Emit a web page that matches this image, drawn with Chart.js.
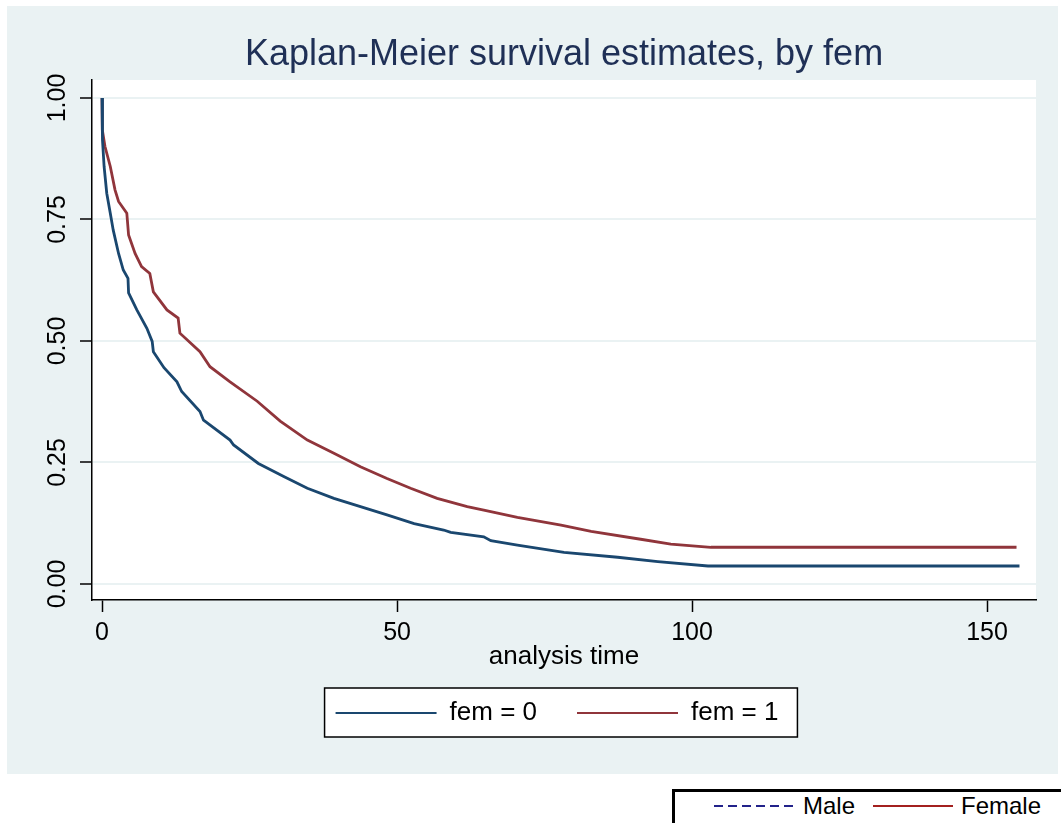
<!DOCTYPE html>
<html>
<head>
<meta charset="utf-8">
<title>Kaplan-Meier survival estimates, by fem</title>
<script src="https://cdn.jsdelivr.net/npm/chart.js@4.4.1/dist/chart.umd.min.js"></script>
<style>
  html, body { margin: 0; padding: 0; background: #fff; overflow: hidden; }
  #wrap { position: relative; width: 1061px; height: 823px; }
  #chart { position: absolute; left: 0; top: 0; }
  #keys {
    position: absolute; left: 672px; top: 789px; width: 420px; height: 60px;
    border: 3px solid #000; background: #fff;
    font-family: "Liberation Sans", Arial, sans-serif; font-size: 24px; color: #000;
  }
  #keys .ln { position: absolute; top: 13px; height: 2px; }
  #keys .tx { position: absolute; top: -1px; line-height: 30px; white-space: nowrap; }
</style>
</head>
<body>
<div id="wrap">
  <canvas id="chart" width="1061" height="823"></canvas>
  <div id="keys">
    <span class="ln" style="left:39px;width:81px;background:repeating-linear-gradient(to right,#22228a 0 9px,transparent 9px 14px);"></span>
    <span class="tx" style="left:128px;">Male</span>
    <span class="ln" style="left:198px;width:80px;background:#a3201f;"></span>
    <span class="tx" style="left:286px;">Female</span>
  </div>
</div>
<script>
// values
const xTicks = [0, 50, 100, 150];
const yTicks = [0, 0.25, 0.5, 0.75, 1];
const groupLabels = ['fem = 0', 'fem = 1'];

const fem0Time = [0, 0.05, 0.1, 0.35, 0.8, 1.4, 1.9, 2.8, 3.6, 4.4, 4.5, 5.9, 7.6, 8.5, 8.7, 10.5, 12.7, 13.5,
  16.6, 17.2, 21.7, 22.3, 26.5, 30.8, 34.8, 39.3, 43.8, 48.3, 52.9, 57.9, 59.1, 64.7, 65.9, 70.4, 78.3,
  87.4, 94.2, 102.7, 155.5];
const fem0Surv = [1.0, 0.965, 0.914, 0.859, 0.804, 0.763, 0.728, 0.68, 0.646, 0.629, 0.599, 0.564, 0.526, 0.499, 0.478, 0.445, 0.416, 0.396,
  0.355, 0.337, 0.296, 0.286, 0.248, 0.221, 0.197, 0.176, 0.159, 0.142, 0.124, 0.111, 0.106, 0.097, 0.089, 0.080, 0.065,
  0.055, 0.046, 0.037, 0.037];

const fem1Time = [0, 0.05, 0.5, 1.4, 2.2, 2.8, 4.2, 4.5, 5.6, 6.7, 8.1, 8.7, 11, 12.9, 13.2, 16.6, 18.3, 21.7,
  26.3, 30.2, 34.8, 39.3, 43.8, 48.3, 52.3, 56.8, 61.9, 64.7, 70.4, 77.8, 82.9, 91.3, 96.4, 103.2, 155];
const fem1Surv = [1.0, 0.934, 0.90, 0.859, 0.811, 0.787, 0.763, 0.718, 0.68, 0.653, 0.639, 0.601, 0.564, 0.547, 0.516, 0.478, 0.447, 0.416,
  0.376, 0.335, 0.296, 0.269, 0.241, 0.217, 0.197, 0.176, 0.159, 0.152, 0.137, 0.121, 0.108, 0.092, 0.082, 0.0755, 0.0755];

const lineColors = ['#1a476f', '#90353b'];

function toPoints(times, surv) {
  return times.map((t, i) => ({ x: t, y: surv[i] }));
}

// gray page, white plot region and the box round the legend
const backdrop = {
  id: 'backdrop',
  afterUpdate(chart) {
    // nudge the legend a little left, as in the original
    const lg = chart.legend;
    lg.left -= 7;
    lg.right -= 7;
    (lg.legendHitBoxes || []).forEach(h => { h.left -= 7; });
  },
  beforeDraw(chart) {
    const { ctx, chartArea: a, legend } = chart;
    ctx.save();
    ctx.fillStyle = '#fff';
    ctx.fillRect(0, 0, chart.width, chart.height);
    ctx.fillStyle = '#eaf2f3';
    ctx.fillRect(7, 6, 1051, 768);
    ctx.fillStyle = '#fff';
    ctx.fillRect(a.left, a.top, a.right - a.left, a.bottom - a.top);
    const hb = legend.legendHitBoxes;
    if (hb && hb.length) {
      const first = hb[0], last = hb[hb.length - 1];
      const l = first.left - 11, r = last.left + last.width + 19;
      const t = first.top - 12, b = first.top + 37;
      ctx.fillRect(l, t, r - l, b - t);
      ctx.strokeStyle = '#000';
      ctx.lineWidth = 1.5;
      ctx.strokeRect(l, t, r - l, b - t);
    }
    ctx.restore();
  }
};

Chart.defaults.font.family = '"Liberation Sans", Arial, sans-serif';
Chart.defaults.color = '#000';

new Chart(document.getElementById('chart').getContext('2d'), {
  type: 'line',
  data: {
    datasets: [
      { label: groupLabels[0], data: toPoints(fem0Time, fem0Surv), borderColor: lineColors[0], borderWidth: 2.8, pointRadius: 0, fill: false, tension: 0 },
      { label: groupLabels[1], data: toPoints(fem1Time, fem1Surv), borderColor: lineColors[1], borderWidth: 2.8, pointRadius: 0, fill: false, tension: 0 }
    ]
  },
  options: {
    responsive: false,
    animation: false,
    devicePixelRatio: 1,
    layout: { padding: { left: 7, right: 25, top: 6, bottom: 87 } },
    plugins: {
      title: {
        display: true,
        text: 'Kaplan-Meier survival estimates, by fem',
        color: '#1f3056',
        font: { size: 36, weight: 'normal' },
        padding: { top: 27.4, bottom: 3.4 },
        fullSize: false
      },
      legend: {
        position: 'bottom',
        fullSize: false,
        labels: {
          boxWidth: 101,
          boxHeight: 2,
          padding: 40,
          font: { size: 26 },
          generateLabels: chart => chart.data.datasets.map((ds, i) => ({
            text: ds.label, fillStyle: ds.borderColor, strokeStyle: ds.borderColor,
            lineWidth: 0, hidden: false, datasetIndex: i
          }))
        }
      },
      tooltip: { enabled: false }
    },
    scales: {
      x: {
        type: 'linear',
        min: -1.7,
        max: 158.3,
        afterBuildTicks: s => { s.ticks = xTicks.map(v => ({ value: v })); },
        afterFit: s => { s.height = 60; },
        grid: { drawOnChartArea: false, tickLength: 12, tickColor: '#000', tickWidth: 1.5 },
        border: { color: '#000', width: 1.5 },
        ticks: { font: { size: 25 }, padding: 6, maxRotation: 0 },
        title: { display: true, text: 'analysis time', font: { size: 26 }, padding: { top: 0, bottom: -12.6 } }
      },
      y: {
        min: -0.033,
        max: 1.037,
        afterBuildTicks: s => { s.ticks = yTicks.map(v => ({ value: v })); },
        afterFit: s => { s.width = 85; },
        grid: { color: '#eaf2f3', lineWidth: 2, tickLength: 12, tickColor: '#000', tickWidth: 1.5 },
        border: { color: '#000', width: 1.5 },
        ticks: {
          font: { size: 25 }, padding: -2, minRotation: 90, maxRotation: 90, crossAlign: 'center',
          callback: v => v.toFixed(2)
        }
      }
    }
  },
  plugins: [backdrop]
});
</script>
</body>
</html>
